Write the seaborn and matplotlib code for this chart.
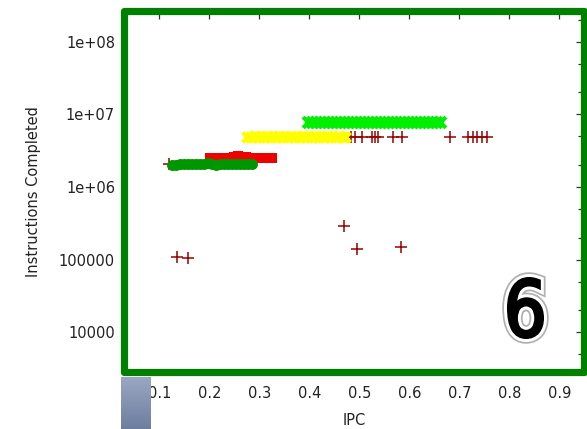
import numpy as np
import matplotlib
matplotlib.use('Agg')
import matplotlib.pyplot as plt
import matplotlib.patheffects as pe
from matplotlib.patches import Rectangle, PathPatch
from matplotlib.textpath import TextPath
from matplotlib.font_manager import FontProperties
from matplotlib.transforms import Affine2D, IdentityTransform
from matplotlib.ticker import FixedLocator, FixedFormatter, NullFormatter
import seaborn as sns

# valores (IPC x instruções completadas)
plus_ipc = [0.120, 0.135, 0.158, 0.469, 0.483, 0.491, 0.495, 0.505, 0.525, 0.531,
            0.538, 0.568, 0.583, 0.585, 0.681, 0.718, 0.728, 0.735, 0.745, 0.755]
plus_instr = [2.05e6, 1.09e5, 1.05e5, 2.9e5, 4.85e6, 4.85e6, 1.42e5, 4.85e6, 4.85e6, 4.85e6,
              4.85e6, 4.85e6, 1.5e5, 4.85e6, 4.85e6, 4.85e6, 4.85e6, 4.85e6, 4.85e6, 4.85e6]

red_ipc = [0.202, 0.210, 0.218, 0.226, 0.234, 0.242, 0.250, 0.258, 0.266, 0.274,
           0.282, 0.290, 0.298, 0.306, 0.314, 0.322, 0.326]
red_instr = [2.48e6, 2.52e6, 2.50e6, 2.47e6, 2.53e6, 2.50e6, 2.60e6, 2.64e6, 2.62e6, 2.58e6,
             2.50e6, 2.48e6, 2.52e6, 2.49e6, 2.51e6, 2.50e6, 2.48e6]

green_ipc = [0.126, 0.134, 0.142, 0.150, 0.158, 0.166, 0.174, 0.182, 0.190, 0.198,
             0.206, 0.214, 0.222, 0.230, 0.238, 0.246, 0.254, 0.262, 0.270, 0.278, 0.285]
green_instr = [2.02e6, 2.04e6, 2.07e6, 2.09e6, 2.06e6, 2.10e6, 2.08e6, 2.05e6, 2.09e6, 2.11e6,
               2.07e6, 2.04e6, 2.08e6, 2.10e6, 2.06e6, 2.08e6, 2.05e6, 2.09e6, 2.07e6, 2.05e6, 2.06e6]

yellow_ipc = [0.276, 0.284, 0.292, 0.300, 0.308, 0.316, 0.324, 0.332, 0.340, 0.348,
              0.356, 0.364, 0.372, 0.380, 0.388, 0.396, 0.404, 0.412, 0.420, 0.428,
              0.436, 0.444, 0.452, 0.460, 0.468, 0.471]
yellow_instr = [4.95e6, 4.92e6, 4.98e6, 4.95e6, 4.93e6, 4.97e6, 4.95e6, 4.94e6, 4.96e6, 4.95e6,
                4.93e6, 4.97e6, 4.95e6, 4.94e6, 4.96e6, 4.95e6, 4.93e6, 4.97e6, 4.95e6, 4.94e6,
                4.96e6, 4.95e6, 4.93e6, 4.97e6, 4.95e6, 4.94e6]

lime_ipc = [0.398, 0.406, 0.414, 0.422, 0.430, 0.438, 0.446, 0.454, 0.462, 0.470,
            0.478, 0.486, 0.494, 0.502, 0.510, 0.518, 0.526, 0.534, 0.542, 0.550,
            0.558, 0.566, 0.574, 0.582, 0.590, 0.598, 0.606, 0.614, 0.622, 0.630,
            0.638, 0.646, 0.654, 0.662]
lime_instr = [7.90e6, 7.85e6, 7.95e6, 7.90e6, 7.88e6, 7.93e6, 7.90e6, 7.86e6, 7.94e6, 7.90e6,
              7.88e6, 7.92e6, 7.90e6, 7.87e6, 7.93e6, 7.90e6, 7.88e6, 7.92e6, 7.90e6, 7.86e6,
              7.94e6, 7.90e6, 7.88e6, 7.92e6, 7.90e6, 7.87e6, 7.93e6, 7.90e6, 7.88e6, 7.92e6,
              7.90e6, 7.86e6, 7.94e6, 7.90e6]

xticks = [0.1, 0.2, 0.3, 0.4, 0.5, 0.6, 0.7, 0.8, 0.9]
xtick_labels = ['0.1', '0.2', '0.3', '0.4', '0.5', '0.6', '0.7', '0.8', '0.9']
yticks = [1e4, 1e5, 1e6, 1e7, 1e8]
ytick_labels = ['10000', '100000', '1e+06', '1e+07', '1e+08']

sns.set_style('white')
plt.rcParams['font.family'] = ['DejaVu Sans']

fig = plt.figure(figsize=(5.87, 4.29), dpi=100)
ax = fig.add_axes([124 / 587, 57 / 429, 460 / 587, 360.5 / 429])

sns.scatterplot(x=plus_ipc, y=plus_instr, marker='+', s=75, color='#990000',
                linewidth=1.1, ax=ax, zorder=2)
sns.scatterplot(x=red_ipc, y=red_instr, marker='s', s=55, color='#ee0000',
                edgecolor='#ee0000', linewidth=0, ax=ax, zorder=3)
sns.scatterplot(x=green_ipc, y=green_instr, marker='o', s=62, color='#009600',
                edgecolor='#009600', linewidth=0, ax=ax, zorder=4)
sns.scatterplot(x=yellow_ipc, y=yellow_instr, marker='x', s=50, color='#ffff00',
                linewidth=3, ax=ax, zorder=5)
sns.scatterplot(x=lime_ipc, y=lime_instr, marker='x', s=60, color='#00ee00',
                linewidth=3, ax=ax, zorder=6)

ax.set_yscale('log')
ax.set_xlim(0.0294, 0.9494)
ax.set_ylim(10 ** 3.4535, 10 ** 8.4157)

ax.xaxis.set_major_locator(FixedLocator(xticks))
ax.xaxis.set_major_formatter(FixedFormatter(xtick_labels))
ax.yaxis.set_major_locator(FixedLocator(yticks))
ax.yaxis.set_major_formatter(FixedFormatter(ytick_labels))
minor = [m * 10 ** e for e in range(3, 9) for m in (2, 5)]
ax.yaxis.set_minor_locator(FixedLocator(minor))
ax.yaxis.set_minor_formatter(NullFormatter())

ax.tick_params(which='both', direction='in', top=True, right=True, color='#333333')
ax.tick_params(which='major', length=6, width=0.9, labelsize=10.5, labelcolor='#222222')
ax.tick_params(which='minor', length=4, width=0.9)
ax.tick_params(axis='x', pad=10)
ax.tick_params(axis='y', pad=6.5)

ax.set_xlabel('IPC', fontsize=10.5, color='#222222')
ax.set_ylabel('Instructions Completed', fontsize=10.5, color='#222222')
ax.xaxis.set_label_coords(0.5, -0.115)
ax.yaxis.set_label_coords(-0.18, 0.5)

for s in ax.spines.values():
    s.set_visible(False)

# moldura verde arredondada
ax.add_patch(Rectangle((0, 0), 1, 1, transform=ax.transAxes, fill=False,
                       edgecolor='#008000', linewidth=5.2, joinstyle='round',
                       clip_on=False, zorder=10))

# caixa com degradê no canto inferior esquerdo
gax = fig.add_axes([121 / 587, 0, 30 / 587, 52 / 429])
grad = np.linspace(0, 1, 64).reshape(-1, 1)
cmap = matplotlib.colors.LinearSegmentedColormap.from_list('g', ['#9aa7c3', '#6e7e9f'])
gax.imshow(grad, aspect='auto', cmap=cmap)
gax.axis('off')

# número 6 sobreposto (glifo um pouco estreitado)
tp = TextPath((0, 0), '6', size=1, prop=FontProperties(family='DejaVu Sans'))
ext = tp.get_extents()
sx = 34 / ext.width
sy = 59 / ext.height
tr = (Affine2D().translate(-(ext.x0 + ext.width / 2), -(ext.y0 + ext.height / 2))
      .scale(sx, sy).translate(525.5, 429 - 308))
six = PathPatch(tp, facecolor='black', edgecolor='none',
                transform=tr + IdentityTransform(), zorder=20)
six.set_path_effects([pe.Stroke(linewidth=9, foreground='#b0b0b0'),
                      pe.Stroke(linewidth=6.5, foreground='white'),
                      pe.Stroke(linewidth=2.2, foreground='black'),
                      pe.Normal()])
fig.patches.append(six)
six.set_figure(fig)

fig.savefig('out.png', dpi=100)
plt.close(fig)
